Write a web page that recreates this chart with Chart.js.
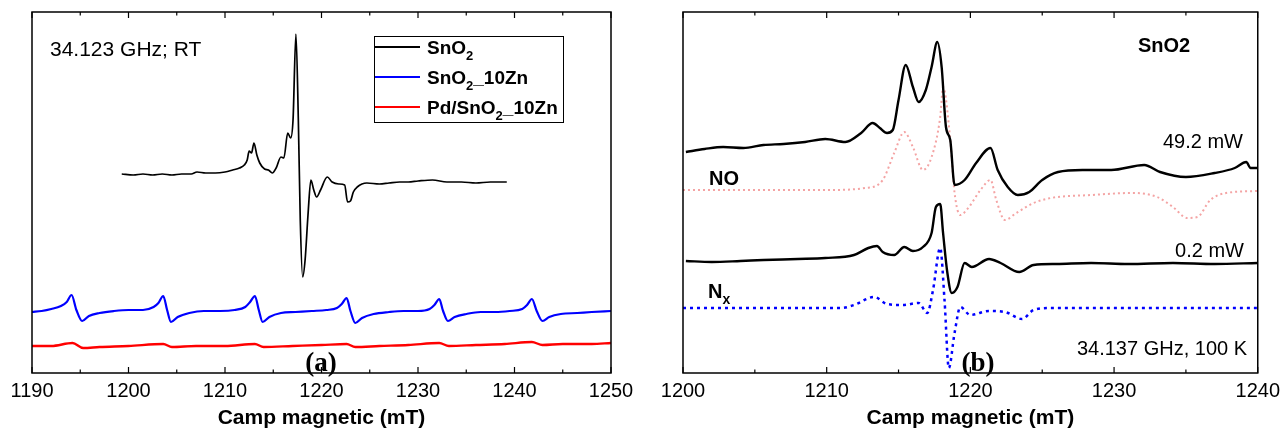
<!DOCTYPE html>
<html>
<head>
<meta charset="utf-8">
<script src="https://cdn.jsdelivr.net/npm/chart.js@4.4.0/dist/chart.umd.min.js"></script>
<style>
  html, body { margin: 0; padding: 0; background: #fff; }
  #wrap { position: relative; width: 1286px; height: 431px; }
  .panel { position: absolute; top: 0; width: 643px; height: 431px; }
</style>
</head>
<body>
<div id="wrap">
  <div class="panel" style="left:0"><canvas id="chartA" width="643" height="431"></canvas></div>
  <div class="panel" style="left:643px"><canvas id="chartB" width="643" height="431"></canvas></div>
</div>
<script>
// ---- panel (a): 34.123 GHz, RT ----
const fieldSnO2 = [1199.3,1200.5,1201.5,1202.5,1203.5,1204.5,1205.5,1206.5,1207.1,1208,1209,1210,1210.8,1211.5,1212.0,1212.3,1212.5,1212.75,1213.0,1213.3,1213.6,1214.1,1214.5,1214.9,1215.3,1215.8,1216.1,1216.5,1216.8,1217.05,1217.35,1217.6,1217.8,1218.05,1218.3,1218.6,1218.9,1219.2,1219.5,1219.9,1220.6,1221.1,1221.8,1222.4,1222.7,1223.0,1223.3,1223.7,1224.7,1226,1227,1228.1,1229,1230,1231.5,1233,1234.5,1236,1237.5,1239.2];
const signalSnO2 = [199,198,199,198,199,198,199,199,201,200,200,201,203,205,208,213,222,220,230,218,210,204,203,200,205,216,215,240,235,253,339,253,153,96,113,158,193,183,176,183,196,191,189,188,171,172,181,186,190,189,190,191,191,192,193,191,191,190,191,191];

const fieldZn = [1190,1191,1192,1193,1193.6,1194.1,1194.6,1195.2,1195.9,1197,1198.5,1200,1201.5,1202.6,1203.1,1203.6,1204.0,1204.4,1205.1,1206.3,1207.8,1209.5,1211,1212.1,1212.6,1213.1,1213.5,1213.9,1214.6,1215.8,1217.3,1219,1220.5,1221.6,1222.1,1222.6,1223.0,1223.5,1224.2,1225.4,1227,1228.5,1230,1231.2,1231.7,1232.2,1232.6,1233.1,1233.8,1235,1236.5,1238,1239.5,1240.8,1241.3,1241.8,1242.3,1242.9,1243.6,1244.8,1246.5,1248,1250];
const signalZn = [61,62,64,67,71,78,63,52,57,60,62,63,63,66,70,77,63,51,56,60,62,62,63,66,71,77,63,51,56,60,61,62,63,65,69,75,62,50,55,59,61,62,62,64,68,74,62,52,56,59,61,61,62,64,68,74,62,52,56,59,60,61,62];

const fieldPdZn = [1190,1192,1194.2,1195.3,1197,1200,1203.6,1204.5,1207,1210,1213.1,1214,1217,1220,1222.6,1223.5,1226,1229,1232.2,1233.2,1236,1239,1241.8,1242.9,1245,1248,1250];
const signalPdZn = [27,27,30,25,26,27,29,26,27,27,29,26,27,28,29,26,27,28,30,27,28,29,31,28,29,29,30];

const ticksA = [1190,1200,1210,1220,1230,1240,1250];
const minorA = [1195,1205,1215,1225,1235,1245];

// ---- panel (b): SnO2, 34.137 GHz, 100 K ----
const field49mW = [1200.2,1201.5,1202.8,1204.2,1205.6,1207,1208.5,1209.9,1211.3,1212.4,1213.2,1213.7,1214.2,1214.6,1215.0,1215.5,1216.0,1216.4,1216.9,1217.3,1217.7,1218.0,1218.3,1218.6,1218.9,1219.6,1220.4,1221.4,1221.9,1222.6,1223.3,1224.1,1225.0,1226.1,1227.8,1229.8,1232.1,1233.2,1235.0,1237.0,1238.4,1239.2,1239.5,1240];
const signal49mW = [221,224,226,225,228,229,231,234,231,240,250,245,240,243,273,308,286,271,283,306,331,306,246,233,188,193,210,225,203,186,178,181,193,201,203,203,208,201,196,200,205,211,205,205];

const fieldNO = [1200,1205,1210,1212.7,1213.9,1214.7,1215.4,1216.0,1216.7,1217.3,1217.9,1218.1,1218.6,1218.9,1219.3,1219.9,1220.7,1221.4,1221.8,1222.4,1223.2,1224.4,1225.6,1228.4,1231.3,1233.0,1234.1,1235.1,1235.8,1236.7,1237.8,1240];
const signalNO = [183,183,183,185,193,220,241,226,203,216,256,286,233,180,158,166,183,193,173,153,160,170,175,178,180,176,166,155,156,173,180,182];

const field02mW = [1200.2,1202,1204,1205.6,1208,1209.9,1211.9,1212.9,1213.5,1213.9,1214.7,1215.4,1216.0,1216.7,1217.3,1217.6,1217.9,1218.1,1218.4,1218.7,1219.1,1219.6,1220.1,1221.3,1222.1,1223.4,1224.4,1226,1228.4,1231,1234.1,1237,1240];
const signal02mW = [112,111,112,113,114,115,118,125,127,121,118,126,122,126,140,166,169,140,100,80,86,110,106,114,110,101,108,109,110,109,110,109,110];

const fieldNx = [1200,1205,1211,1211.9,1213.3,1214.2,1215.3,1216.4,1217.0,1217.4,1217.9,1218.2,1218.5,1218.9,1219.3,1220.0,1221.3,1222.4,1223.6,1224.4,1225.6,1240];
const signalNx = [65,65,65,68,76,69,68,70,60,83,125,73,5,40,66,58,62,61,54,63,65,65];

const ticksB = [1200,1210,1220,1230,1240];
const minorB = [1205,1215,1225,1235];

const SANS = '"Liberation Sans", Arial, sans-serif';
const SERIF = '"Liberation Serif", "Times New Roman", serif';

function pts(xs, ys) {
  return xs.map((x, i) => ({ x: x, y: ys[i] }));
}

// text with optional subscript pieces
function richText(ctx, parts, x, y, size, weight, align) {
  ctx.save();
  const pieces = parts.map(p => {
    const s = p.sub ? Math.round(size * 0.7) : size;
    ctx.font = weight + ' ' + s + 'px ' + SANS;
    return { t: p.t, s: s, sub: p.sub, w: ctx.measureText(p.t).width };
  });
  const total = pieces.reduce((a, p) => a + p.w, 0);
  let cx = align === 'center' ? x - total / 2 : (align === 'right' ? x - total : x);
  ctx.textAlign = 'left';
  ctx.textBaseline = 'alphabetic';
  ctx.fillStyle = '#000';
  pieces.forEach(p => {
    ctx.font = weight + ' ' + p.s + 'px ' + SANS;
    ctx.fillText(p.t, cx, p.sub ? y + size * 0.3 : y);
    cx += p.w;
  });
  ctx.restore();
}

// box + inward ticks, then the panel's own texts
function framePlugin(majors, minors, extras) {
  return {
    id: 'frame',
    afterDraw(chart) {
      const ctx = chart.ctx;
      const a = chart.chartArea;
      const xs = chart.scales.x;
      ctx.save();
      ctx.strokeStyle = '#000';
      ctx.lineWidth = 1.5;
      ctx.strokeRect(a.left, a.top, a.right - a.left, a.bottom - a.top);
      ctx.lineWidth = 1.2;
      ctx.beginPath();
      majors.forEach(v => {
        const px = xs.getPixelForValue(v);
        ctx.moveTo(px, a.bottom); ctx.lineTo(px, a.bottom - 6);
        ctx.moveTo(px, a.top); ctx.lineTo(px, a.top + 6);
      });
      minors.forEach(v => {
        const px = xs.getPixelForValue(v);
        ctx.moveTo(px, a.bottom); ctx.lineTo(px, a.bottom - 3.5);
        ctx.moveTo(px, a.top); ctx.lineTo(px, a.top + 3.5);
      });
      ctx.stroke();
      ctx.restore();
      extras(ctx, a);
    }
  };
}

function xScale(min, max) {
  return {
    type: 'linear',
    min: min,
    max: max,
    grid: { display: false, drawTicks: false },
    border: { display: false },
    ticks: {
      stepSize: 10,
      autoSkip: false,
      maxRotation: 0,
      padding: 6,
      color: '#000',
      font: { family: SANS, size: 20 },
      callback: v => String(v)
    },
    title: {
      display: true,
      text: 'Camp magnetic (mT)',
      color: '#000',
      padding: { top: 0, bottom: 0 },
      font: { family: SANS, size: 21, weight: 'bold' }
    },
    afterFit(scale) { scale.height = 58; }
  };
}

function baseOptions(min, max, pad) {
  return {
    responsive: false,
    animation: false,
    layout: { padding: pad },
    plugins: { legend: { display: false }, tooltip: { enabled: false } },
    elements: { point: { radius: 0 }, line: { cubicInterpolationMode: 'monotone' } },
    scales: {
      x: xScale(min, max),
      y: { display: false, min: 0, max: 361 }
    }
  };
}

new Chart(document.getElementById('chartA'), {
  type: 'line',
  data: {
    datasets: [
      { label: 'SnO2', data: pts(fieldSnO2, signalSnO2), borderColor: '#000', borderWidth: 1.7 },
      { label: 'SnO2_10Zn', data: pts(fieldZn, signalZn), borderColor: '#0000ff', borderWidth: 2.2 },
      { label: 'Pd/SnO2_10Zn', data: pts(fieldPdZn, signalPdZn), borderColor: '#ff0000', borderWidth: 2.4 }
    ]
  },
  options: baseOptions(1190, 1250, { left: 32, right: 32, top: 12, bottom: 0 }),
  plugins: [framePlugin(ticksA, minorA, (ctx, a) => {
    ctx.save();
    ctx.fillStyle = '#000';
    ctx.font = '21px ' + SANS;
    ctx.textBaseline = 'alphabetic';
    ctx.fillText('34.123 GHz; RT', 50, 56);
    // legend
    ctx.strokeStyle = '#000';
    ctx.lineWidth = 1;
    ctx.strokeRect(374.5, 36.5, 189, 86);
    const rows = [
      { c: '#000', parts: [{ t: 'SnO' }, { t: '2', sub: true }] },
      { c: '#0000ff', parts: [{ t: 'SnO' }, { t: '2', sub: true }, { t: '_10Zn' }] },
      { c: '#ff0000', parts: [{ t: 'Pd/SnO' }, { t: '2', sub: true }, { t: '_10Zn' }] }
    ];
    rows.forEach((r, i) => {
      const y = 47 + i * 30;
      ctx.strokeStyle = r.c;
      ctx.lineWidth = 2;
      ctx.beginPath(); ctx.moveTo(375, y); ctx.lineTo(420, y); ctx.stroke();
      richText(ctx, r.parts, 427, y + 7, 19, 'bold', 'left');
    });
    ctx.font = 'bold 27px ' + SERIF;
    ctx.textAlign = 'center';
    ctx.fillText('(a)', 321, 371);
    ctx.restore();
  })]
});

new Chart(document.getElementById('chartB'), {
  type: 'line',
  data: {
    datasets: [
      { label: '49.2 mW', data: pts(field49mW, signal49mW), borderColor: '#000', borderWidth: 2.4 },
      { label: 'NO', data: pts(fieldNO, signalNO), borderColor: '#f4a4a4', borderWidth: 2, borderDash: [2, 3] },
      { label: '0.2 mW', data: pts(field02mW, signal02mW), borderColor: '#000', borderWidth: 2.4 },
      { label: 'Nx', data: pts(fieldNx, signalNx), borderColor: '#0000ff', borderWidth: 2.5, borderDash: [3, 4] }
    ]
  },
  options: baseOptions(1200, 1240, { left: 40, right: 25, top: 12, bottom: 0 }),
  plugins: [framePlugin(ticksB, minorB, (ctx, a) => {
    richText(ctx, [{ t: 'SnO2' }], 521, 52, 20, 'bold', 'center');
    richText(ctx, [{ t: '49.2 mW' }], 600, 148, 20, 'normal', 'right');
    richText(ctx, [{ t: 'NO' }], 66, 185, 20, 'bold', 'left');
    richText(ctx, [{ t: '0.2 mW' }], 601, 257, 20, 'normal', 'right');
    richText(ctx, [{ t: 'N' }, { t: 'x', sub: true }], 65, 298, 20, 'bold', 'left');
    richText(ctx, [{ t: '34.137 GHz, 100 K' }], 519, 355, 20, 'normal', 'center');
    ctx.save();
    ctx.fillStyle = '#000';
    ctx.font = 'bold 27px ' + SERIF;
    ctx.textAlign = 'center';
    ctx.fillText('(b)', 335, 371);
    ctx.restore();
  })]
});
</script>
</body>
</html>
